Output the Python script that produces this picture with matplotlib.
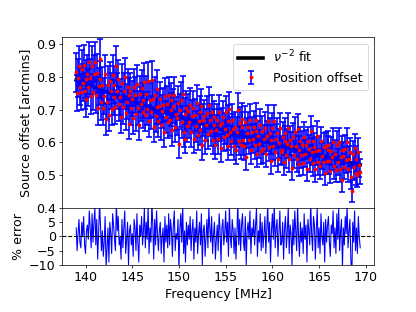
import matplotlib
matplotlib.use('Agg')
import matplotlib.pyplot as plt
import numpy as np

plt.rcParams['font.size'] = 14

# channel grid: 10 channels per MHz from 139.0 to 169.4 MHz
freq = np.arange(305) * 0.1 + 139.0

# nu^-2 fit, read at every MHz
fit_freq = [139, 140, 141, 142, 143, 144, 145, 146, 147, 148, 149, 150,
            151, 152, 153, 154, 155, 156, 157, 158, 159, 160, 161, 162,
            163, 164, 165, 166, 167, 168, 169, 169.4]
fit_vals = [0.790, 0.779, 0.768, 0.757, 0.746, 0.736, 0.726, 0.716,
            0.706, 0.697, 0.688, 0.678, 0.669, 0.661, 0.652, 0.644,
            0.635, 0.627, 0.619, 0.611, 0.604, 0.596, 0.589, 0.582,
            0.575, 0.568, 0.561, 0.554, 0.547, 0.541, 0.534, 0.532]

# % error of each channel relative to the fit (one row per MHz)
pct_error = [
    3, -5, 1, 6, -2, -4, 5, 0, 7, -3,
    -6, 2, 4, -1, 9, 3, -4, 8, -2, 5,
    10, -3, 6, -8, 1, 12, 4, -5, 2, -7,
    -2, 7, -11, -4, 3, -9, 5, 1, -6, 8,
    4, -1, -5, 12, 2, 7, -3, 0, -8, 6,
    -4, 3, 9, -6, -1, 5, -10, 2, 4, -3,
    1, -7, 6, 3, -5, 8, -2, -9, 4, 0,
    7, -3, 2, 10, -4, 5, -1, 11, -6, 3,
    -2, 12, 4, -8, 6, -3, 9, 1, -5, 2,
    5, -6, 0, 3, -9, 7, -2, 4, -4, 8,
    -3, 6, 2, -7, 4, 9, -5, 1, -1, 6,
    -12, 3, 8, -2, 11, -6, 2, -9, 5, -3,
    4, -1, 7, -5, 2, 6, -8, 3, -2, 9,
    -6, 1, 5, -3, 8, -10, 2, 4, -7, 0,
    6, -4, 10, 3, -2, 7, -6, 1, 5, -8,
    -1, 4, -5, 8, 2, -9, 3, 6, -3, 1,
    9, -2, 5, -7, 11, 0, -4, 6, 2, -6,
    3, -8, 1, 12, -3, 6, -5, 4, 8, -2,
    -5, 7, -10, 2, 5, -1, 9, -6, 3, 0,
    6, -3, 4, 10, -7, 2, -2, 8, -5, 5,
    -4, 1, 7, -6, 3, 11, -2, 5, -9, 2,
    8, -1, 12, -4, 3, 6, -7, 1, 9, -3,
    -2, 5, -8, 3, 7, -4, 2, 10, -6, 4,
    1, -10, 6, -3, 9, 2, -5, 11, 0, -7,
    5, -2, 3, -6, 8, -1, 4, -9, 6, 2,
    -3, 12, 1, -5, 7, 4, -8, 2, 10, -4,
    3, -6, 8, 0, -3, 5, -9, 6, -2, 4,
    7, -2, -7, 4, 1, 9, -4, 3, -6, 8,
    -1, 10, -5, 2, 6, -11, 3, -3, 7, 1,
    11, -4, 2, 6, -8, -16, 5, -2, 9, -5,
    3, -6, 7, 0, -4,
]

# size of the error bars, % of the offset
SIGMA_PCT = 7.3

fit_at_chan = np.interp(freq, fit_freq, fit_vals)
offset = fit_at_chan * (1 + np.array(pct_error) / 100.0)
offset_err = offset * SIGMA_PCT / 100.0

fig, (ax1, ax2) = plt.subplots(2, 1, sharex=True, figsize=(6.4, 4.8), dpi=65,
                               gridspec_kw={'height_ratios': [3, 1]})
fig.subplots_adjust(left=0.149, right=0.9, top=0.88, bottom=0.151, hspace=0)

ax1.plot(fit_freq, fit_vals, color='k', lw=4, label=r'$\nu^{-2}$ fit')
ax1.errorbar(freq, offset, yerr=offset_err, fmt='o', color='r', ms=3.2,
             ecolor='b', elinewidth=1.8, capsize=3, capthick=1.8,
             label='Position offset')
ax1.set_ylim(0.4, 0.92)
ax1.set_yticks([0.4, 0.5, 0.6, 0.7, 0.8, 0.9])
ax1.set_ylabel('Source offset [arcmins]')
ax1.legend(loc='upper right')
ax1.tick_params(axis='x', labelbottom=False)

ax2.plot(freq, pct_error, color='b', lw=1.2)
ax2.axhline(0, color='k', ls='--', lw=1.2)
ax2.set_ylim(-10, 10)
ax2.set_yticks([-10, -5, 0, 5])
ax2.set_ylabel('% error')
ax2.set_xlabel('Frequency [MHz]')

fig.savefig('out.png', dpi=65)
